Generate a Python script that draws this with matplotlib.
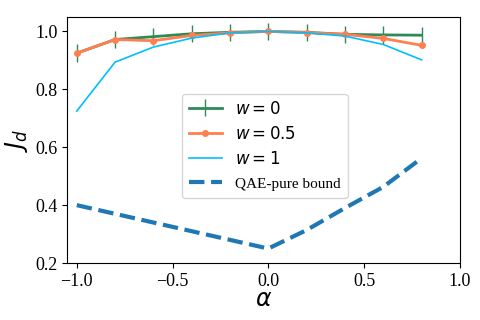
import matplotlib
matplotlib.use('Agg')
import matplotlib.pyplot as plt

# alpha values
alpha = [-1.0, -0.8, -0.6, -0.4, -0.2, 0.0, 0.2, 0.4, 0.6, 0.8]

# fidelity J_d for different w
jd_w0 = [0.925, 0.972, 0.982, 0.992, 0.997, 1.0, 0.997, 0.990, 0.988, 0.987]
jd_w0_err = [0.03, 0.03, 0.03, 0.03, 0.03, 0.03, 0.03, 0.03, 0.03, 0.03]
jd_w05 = [0.925, 0.972, 0.968, 0.986, 0.995, 1.0, 0.996, 0.990, 0.976, 0.952]
jd_w1 = [0.725, 0.894, 0.946, 0.977, 0.995, 1.0, 0.995, 0.984, 0.955, 0.902]

# QAE-pure bound
bound = [0.40, 0.37, 0.34, 0.31, 0.28, 0.25, 0.314, 0.39, 0.463, 0.562]

plt.rcParams['font.family'] = ['Liberation Serif', 'DejaVu Serif']
plt.rcParams['mathtext.fontset'] = 'dejavusans'

fig = plt.figure(figsize=(4.8, 3.2), dpi=100)
ax = fig.add_axes([0.14, 0.178, 0.818, 0.769])

h0 = ax.errorbar(alpha, jd_w0, yerr=jd_w0_err, color='seagreen', lw=2,
                 elinewidth=1, label=r'$w = 0$', zorder=2)
h1, = ax.plot(alpha, jd_w05, color='coral', lw=2, marker='o', markersize=4,
              label=r'$w = 0.5$', zorder=3)
h2, = ax.plot(alpha, jd_w1, color='deepskyblue', lw=1.2, label=r'$w = 1$',
              zorder=3)
h3, = ax.plot(alpha, bound, color='tab:blue', lw=3, ls='--',
              label='QAE-pure bound')

ax.set_xlim(-1.05, 1.0)
ax.set_ylim(0.2, 1.05)
ax.set_yticks([0.2, 0.4, 0.6, 0.8, 1.0])
ax.set_xticks([-1.0, -0.5, 0.0, 0.5, 1.0])
ax.tick_params(labelsize=13)
ax.set_xlabel(r'$\alpha$', fontsize=17, labelpad=0)
ax.set_ylabel(r'$J_d$', fontsize=17)

leg = ax.legend(handles=[h0, h1, h2, h3], loc='center',
                bbox_to_anchor=(0.503, 0.476), fontsize=12, handlelength=2.0)
leg.get_texts()[3].set_fontsize(11)

plt.savefig('out.png')
plt.close()
